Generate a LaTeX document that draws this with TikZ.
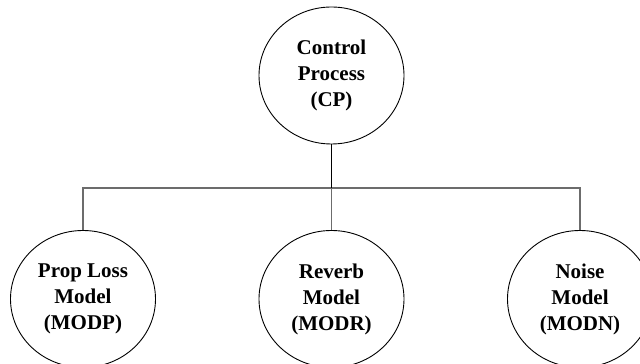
\documentclass[tikz,border=0pt]{standalone}
\usepackage{fontspec}
\setmainfont{Liberation Serif}
\usepackage{tikz}
\usetikzlibrary{shapes.geometric}

\begin{document}
\begin{tikzpicture}[x=1pt,y=1pt,
  proc/.style={draw,ellipse,line width=0.9pt,inner sep=0pt,minimum width=145pt,minimum height=137pt,align=center,font=\fontsize{21}{26}\selectfont\bfseries},
  link/.style={line width=1.6pt,gray!85!black}]
\clip (0,0) rectangle (640,364);
\node [proc] (cp) at(331.5,288.5){Control\\Process\\(CP)};
\node [proc] (modp) at(83,65){Prop Loss\\Model\\(MODP)};
\node [proc] (modr) at(331.5,65){Reverb\\Model\\(MODR)};
\node [proc] (modn) at(580,65){Noise\\Model\\(MODN)};
\coordinate (bus) at(331.5,176);
\draw[link](modp.north) |- (bus) -| (modn.north);
\draw[link](bus) -- (modr.north);
\draw[line width=1.6pt](cp.south) -- (bus);
\end{tikzpicture}
\end{document}
